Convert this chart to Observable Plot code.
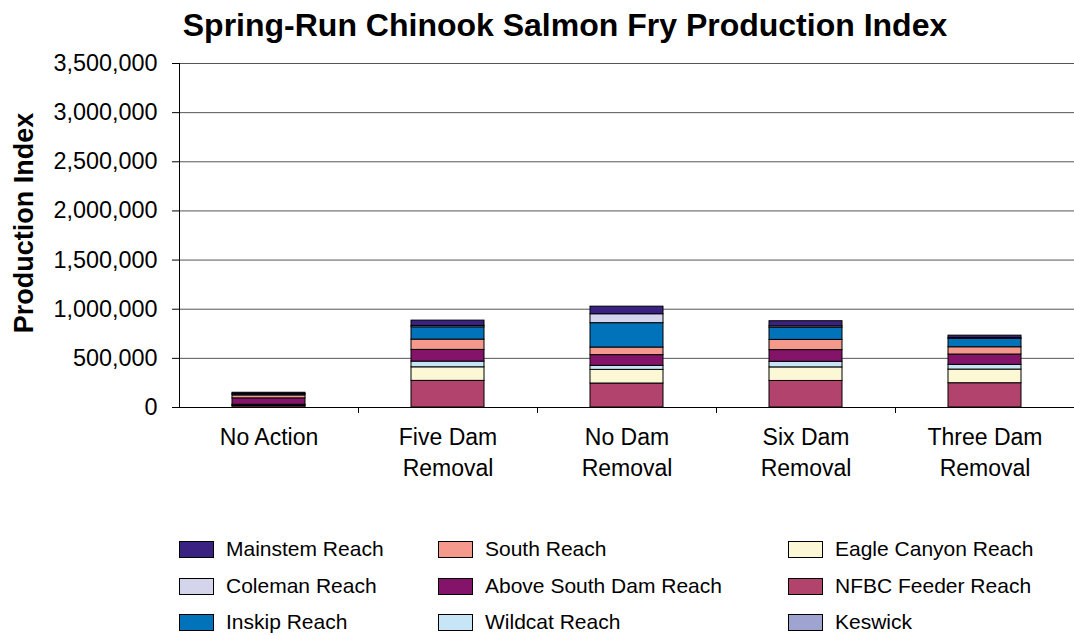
<!DOCTYPE html>
<html>
<head>
<meta charset="utf-8">
<script src="https://cdn.jsdelivr.net/npm/d3@7"></script>
<script src="https://cdn.jsdelivr.net/npm/@observablehq/plot@0.6"></script>
<style>
  html, body { margin: 0; padding: 0; background: #fff; }
  #wrap { position: relative; width: 1074px; height: 635px; overflow: hidden; font-family: "Liberation Sans", Arial, sans-serif; color: #000; background: #fff; }
  #title { position: absolute; left: 0; width: 1130px; top: 9px; text-align: center; font-size: 32px; font-weight: bold; line-height: 32px; white-space: nowrap; z-index: 2; }
  #ylabel { position: absolute; left: 24px; top: 223px; transform: translate(-50%, -50%) rotate(-90deg); font-size: 27px; font-weight: bold; white-space: nowrap; z-index: 2; }
  #chart { position: absolute; left: 0; top: 50px; z-index: 1; }
  .leg { position: absolute; display: flex; align-items: center; height: 24px; font-size: 21px; white-space: nowrap; }
  .sw { width: 33px; height: 15px; border: 1px solid #000; margin-right: 12px; box-sizing: content-box; }
</style>
</head>
<body>
<div id="wrap">
  <div id="title">Spring-Run Chinook Salmon Fry Production Index</div>
  <div id="ylabel">Production Index</div>
  <div id="chart"></div>
</div>
<script>
// Categories (scenarios) and their axis labels
const scenarios = ["No Action", "Five Dam Removal", "No Dam Removal", "Six Dam Removal", "Three Dam Removal"];
const scenarioLabels = ["No Action", "Five Dam\nRemoval", "No Dam\nRemoval", "Six Dam\nRemoval", "Three Dam\nRemoval"];

// Series, listed from the bottom of each stack to the top
const reaches = ["Keswick", "NFBC Feeder Reach", "Eagle Canyon Reach", "Wildcat Reach", "Above South Dam Reach", "South Reach", "Inskip Reach", "Coleman Reach", "Mainstem Reach"];

// Values per reach, in scenario order
const keswick     = [0, 0, 0, 0, 0];
const nfbcFeeder  = [15000, 271000, 244000, 270000, 247000];
const eagleCanyon = [8000, 138000, 139000, 138000, 139000];
const wildcat     = [5000, 58000, 41000, 57000, 48000];
const aboveSouth  = [65000, 119000, 109000, 119000, 105000];
const southReach  = [30000, 105000, 77000, 104000, 74000];
const inskip      = [12000, 125000, 248000, 124000, 85000];
const coleman     = [3000, 14000, 91000, 14000, 10000];
const mainstem    = [12000, 54000, 77000, 52000, 23000];

const seriesValues = [keswick, nfbcFeeder, eagleCanyon, wildcat, aboveSouth, southReach, inskip, coleman, mainstem];

const colors = ["#9ea3cf", "#b2436c", "#fcf8d6", "#c6e5f6", "#84146a", "#f4998c", "#0073ba", "#d4d4ec", "#3a2283"];

// Legend order (row-major, three columns)
const legendOrder = ["Mainstem Reach", "South Reach", "Eagle Canyon Reach",
                     "Coleman Reach", "Above South Dam Reach", "NFBC Feeder Reach",
                     "Inskip Reach", "Wildcat Reach", "Keswick"];

// Y axis ticks
const yTicks = [0, 500000, 1000000, 1500000, 2000000, 2500000, 3000000, 3500000];

const data = [];
reaches.forEach((r, i) => scenarios.forEach((s, j) => data.push({reach: r, scenario: s, value: seriesValues[i][j]})));
const shown = data.filter(d => d.value > 0);

const W = 1074, ML = 179, MR = 0;
const step = (W - ML - MR) / scenarios.length;
const labelOf = new Map(scenarios.map((s, i) => [s, scenarioLabels[i]]));

const chart = Plot.plot({
  width: W,
  height: 500,
  marginLeft: ML,
  marginRight: MR,
  marginTop: 13,
  marginBottom: 143,
  style: {fontFamily: "'Liberation Sans', Arial, sans-serif", color: "#000", background: "transparent"},
  x: {domain: scenarios, paddingInner: 0.59, paddingOuter: 0.295},
  y: {domain: [0, 3500000]},
  color: {domain: reaches, range: colors},
  marks: [
    Plot.gridY(yTicks, {stroke: "#555", strokeOpacity: 1, strokeWidth: 1}),
    Plot.barY(shown, {x: "scenario", y: "value", fill: "reach", order: reaches, stroke: "#000", strokeWidth: 1}),
    Plot.ruleY([0], {stroke: "#000", strokeWidth: 1}),
    Plot.frame({anchor: "left", stroke: "#000", strokeWidth: 1}),
    Plot.axisY({ticks: yTicks, tickFormat: d3.format(","), tickSize: 7, tickPadding: 15, fontSize: 23.4, label: null}),
    Plot.axisX({tickSize: 0, tickPadding: 15, fontSize: 23, lineHeight: 1.35, tickFormat: d => labelOf.get(d), label: null}),
    Plot.axisX(scenarios.slice(1), {tickSize: 6, tickFormat: () => "", dx: -step / 2, label: null, stroke: "#000"})
  ]
});
document.getElementById("chart").appendChild(chart);

// Legend
const wrap = document.getElementById("wrap");
const colX = [179, 438, 788];
const rowY = [549, 586, 622];
legendOrder.forEach((name, k) => {
  const item = document.createElement("div");
  item.className = "leg";
  item.style.left = colX[k % 3] + "px";
  item.style.top = (rowY[Math.floor(k / 3)] - 12) + "px";
  const sw = document.createElement("div");
  sw.className = "sw";
  sw.style.background = colors[reaches.indexOf(name)];
  const t = document.createElement("span");
  t.textContent = name;
  item.appendChild(sw);
  item.appendChild(t);
  wrap.appendChild(item);
});
</script>
</body>
</html>
